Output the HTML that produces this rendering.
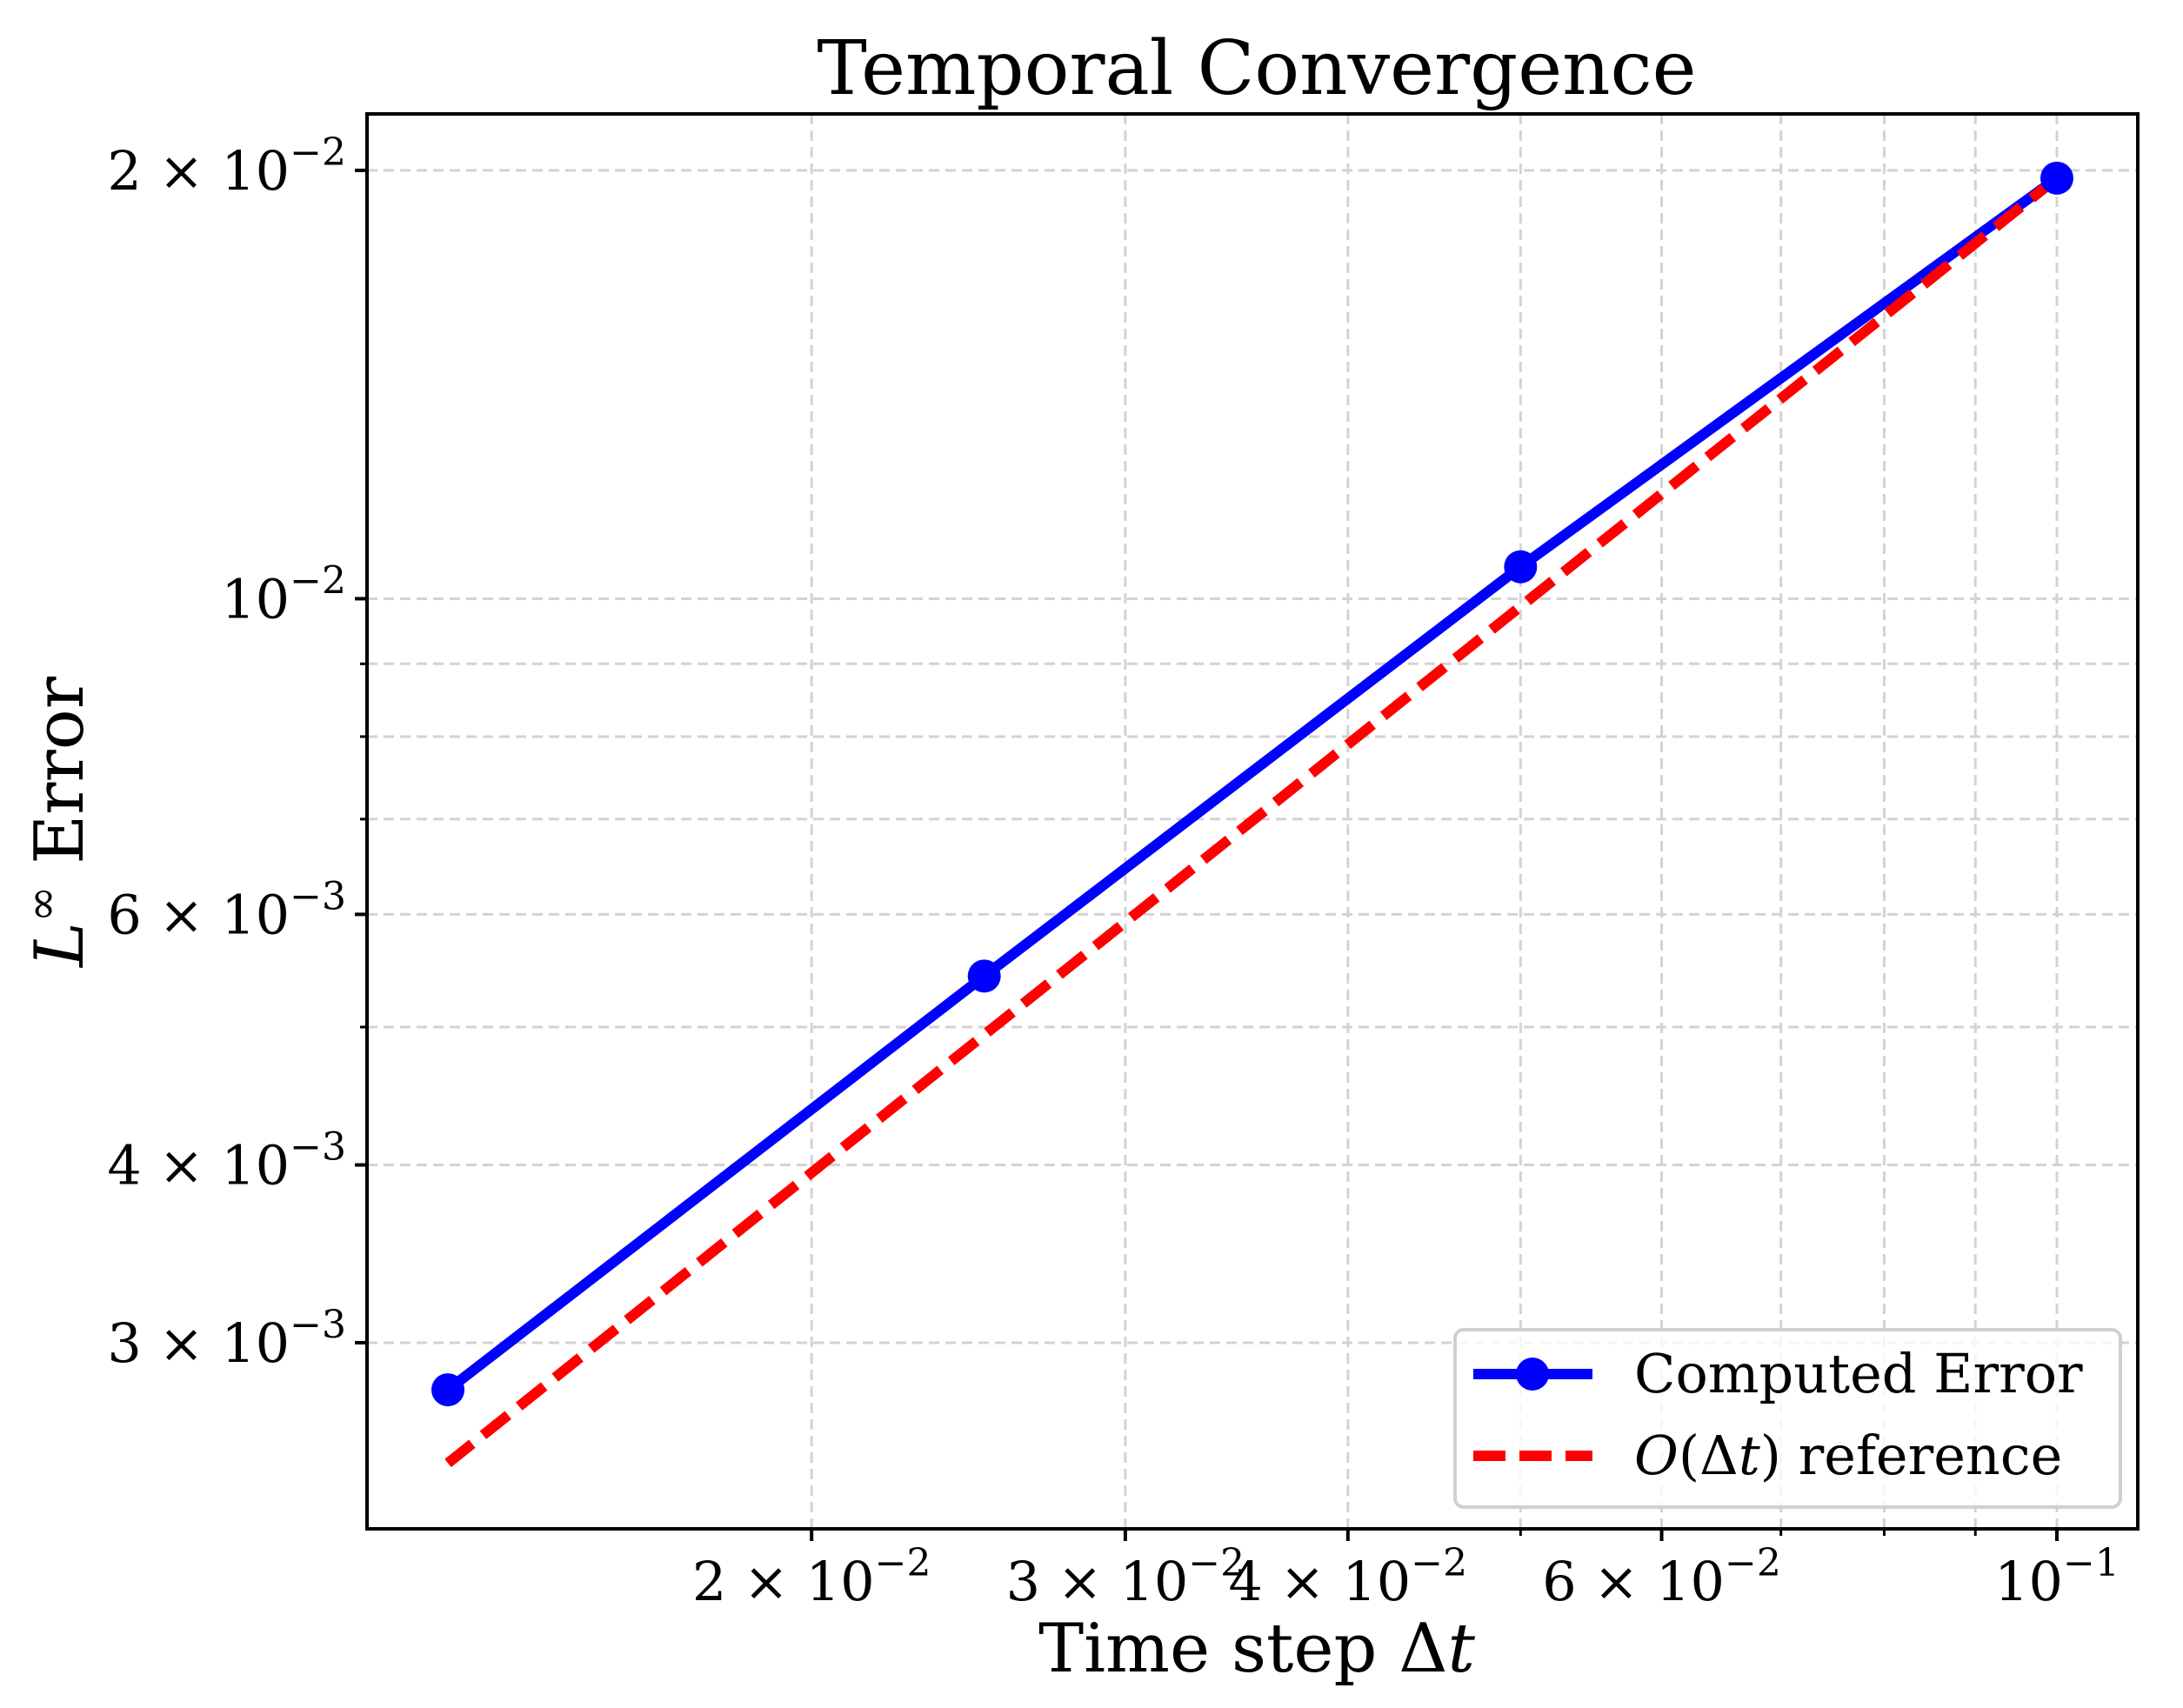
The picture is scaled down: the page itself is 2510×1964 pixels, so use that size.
<!DOCTYPE html>
<html><head><meta charset="utf-8"><style>
html,body{margin:0;padding:0;background:#fff;}
svg{display:block;font-family:"DejaVu Serif","Liberation Serif",serif;}
</style></head><body>
<svg id="chart" width="2510" height="1964" viewBox="0 0 2510 1964" xmlns="http://www.w3.org/2000/svg">
<text x="1445" y="108" text-anchor="middle" font-size="86">Temporal Convergence</text>
<g id="grid"></g>
<g id="series"></g>
<rect x="422" y="131" width="2036" height="1627" fill="none" stroke="#000" stroke-width="4"/>
<g id="ticks"></g>
<text x="1445" y="1922" text-anchor="middle" font-size="78">Time step Δ<tspan font-style="italic">t</tspan></text>
<text transform="translate(95,945) rotate(-90)" text-anchor="middle" font-size="78"><tspan font-style="italic">L</tspan><tspan font-size="50" dy="-30">∞</tspan><tspan dy="30"> Error</tspan></text>
<g>
<rect x="1673" y="1529" width="765" height="204" rx="10" fill="#fff" fill-opacity="0.8" stroke="#d0d0d0" stroke-width="4"/>
<line x1="1694" y1="1580" x2="1831" y2="1580" stroke="#0000ff" stroke-width="12"/>
<circle cx="1762" cy="1580" r="19" fill="#0000ff"/>
<text x="1879" y="1601" font-size="62">Computed Error</text>
<line x1="1694" y1="1674" x2="1831" y2="1674" stroke="#ff0000" stroke-width="12" stroke-dasharray="37,16"/>
<text x="1879" y="1695" font-size="62"><tspan font-style="italic">O</tspan>(Δ<tspan font-style="italic">t</tspan>) reference</text>
</g>
</svg>
<script>
const dtValues = [0.1, 0.05, 0.025, 0.0125];
const errorValues = [0.01975, 0.01053, 0.00543, 0.00278];
const xMajorTicks = [0.02, 0.03, 0.04, 0.06, 0.1];
const xMajorLabels = [["2 \u00d7 10","\u22122"],["3 \u00d7 10","\u22122"],["4 \u00d7 10","\u22122"],["6 \u00d7 10","\u22122"],["10","\u22121"]];
const xMinorTicks = [0.05, 0.07, 0.08, 0.09];
const yMajorTicks = [0.02, 0.01, 0.006, 0.004, 0.003];
const yMajorLabels = [["2 \u00d7 10","\u22122"],["10","\u22122"],["6 \u00d7 10","\u22123"],["4 \u00d7 10","\u22123"],["3 \u00d7 10","\u22123"]];
const yMinorTicks = [0.005, 0.007, 0.008, 0.009];

const NS="http://www.w3.org/2000/svg";
const L=422,R=2458,T=131,B=1758;
const xMin=-1.9485, xMax=-0.9546, yMin=-2.6537, yMax=-1.6593;
function X(v){return L+(Math.log10(v)-xMin)/(xMax-xMin)*(R-L);}
function Y(v){return B-(Math.log10(v)-yMin)/(yMax-yMin)*(B-T);}
function mk(tag,attrs,parent){const e=document.createElementNS(NS,tag);for(const k in attrs)e.setAttribute(k,attrs[k]);parent.appendChild(e);return e;}
const grid=document.getElementById('grid'),ticks=document.getElementById('ticks'),series=document.getElementById('series');
const gs={stroke:"#d3d3d3","stroke-width":3,"stroke-dasharray":"12,7"};
xMajorTicks.concat(xMinorTicks).forEach((v,i)=>{
  const x=X(v);
  const g=mk('line',Object.assign({x1:x,x2:x,y1:T,y2:B},gs),grid);
  
  
  const major=i<xMajorTicks.length;
  const t=mk('line',{x1:x,x2:x,y1:B,y2:B+(major?14:8),stroke:"#000","stroke-width":major?4:3},ticks);
  
  
  if(major){
    const lb=xMajorLabels[i];
    const tx=mk('text',{x:x,y:B+82,"text-anchor":"middle","font-size":62},ticks);
    
    
    tx.textContent=lb[0];
    const sp=mk('tspan',{"font-size":44,dy:-28},tx);sp.textContent=lb[1];
  }
});
yMajorTicks.concat(yMinorTicks).forEach((v,i)=>{
  const y=Y(v);
  const g=mk('line',Object.assign({x1:L,x2:R,y1:y,y2:y},gs),grid);
  
  
  const major=i<yMajorTicks.length;
  const t=mk('line',{x1:L-(major?14:8),x2:L,y1:y,y2:y,stroke:"#000","stroke-width":major?4:3},ticks);
  
  
  if(major){
    const lb=yMajorLabels[i];
    const tx=mk('text',{x:L-24,y:y+22,"text-anchor":"end","font-size":62},ticks);
    
    
    tx.textContent=lb[0];
    const sp=mk('tspan',{"font-size":44,dy:-28},tx);sp.textContent=lb[1];
  }
});
const refValues=dtValues.map(d=>errorValues[0]*d/dtValues[0]);
const refLine=mk('polyline',{points:dtValues.map((d,i)=>X(d)+","+Y(refValues[i])).join(" "),fill:"none",stroke:"#ff0000","stroke-width":12,"stroke-dasharray":"37,16"},series);


const errLine=mk('polyline',{points:dtValues.map((d,i)=>X(d)+","+Y(errorValues[i])).join(" "),fill:"none",stroke:"#0000ff","stroke-width":12},series);


series.appendChild(refLine);
dtValues.forEach((d,i)=>{
  const c=mk('circle',{cx:X(d),cy:Y(errorValues[i]),r:19,fill:"#0000ff"},series);
  
  
});
</script>
</body></html>
